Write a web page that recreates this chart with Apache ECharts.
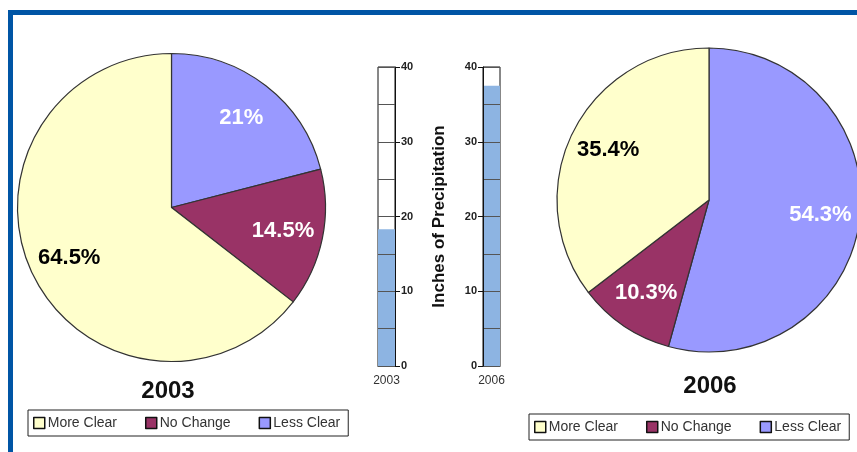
<!DOCTYPE html>
<html><head><meta charset="utf-8">
<script src="https://cdn.jsdelivr.net/npm/echarts@6/dist/echarts.min.js"></script>
<style>html,body{margin:0;padding:0;background:#fff}#c{width:857px;height:452px}</style>
</head><body><div id="c"></div>
<script>
// Data
const categories = ['Less Clear', 'No Change', 'More Clear'];
const legendOrder = ['More Clear', 'No Change', 'Less Clear'];
const values2003 = [21, 14.5, 64.5];
const values2006 = [54.3, 10.3, 35.4];
const precipYears = ['2003', '2006'];
const precip2003 = [18.3];
const precip2006 = [37.5];
const colors = {'More Clear': '#FFFFCC', 'No Change': '#993366', 'Less Clear': '#9999FF'};
const labelColors = {'More Clear': '#000', 'No Change': '#fff', 'Less Clear': '#fff'};

const font = 'Liberation Sans, Arial, sans-serif';
function pieData(vals) {
  return categories.map((c, i) => ({
    name: c, value: vals[i],
    itemStyle: {color: colors[c]},
    label: {color: labelColors[c]}
  }));
}
function pieSeries(vals, center, r) {
  return [{
    type: 'pie', center: center, radius: [0, r], startAngle: 90, clockwise: true,
    data: pieData(vals), label: {show: false}, labelLine: {show: false},
    itemStyle: {borderColor: '#333', borderWidth: 1.2}, silent: true, animation: false
  }, {
    type: 'pie', center: center, radius: [r * 0.44, r], startAngle: 90, clockwise: true,
    data: pieData(vals).map(d => Object.assign(d, {itemStyle: {color: 'rgba(0,0,0,0)'}})),
    label: {show: true, position: 'inside', fontFamily: font, fontWeight: 'bold', fontSize: 22,
      formatter: p => p.value + '%'},
    labelLine: {show: false}, silent: true, animation: false, legendHoverLink: false
  }];
}
function legend(left, top) {
  return {
    data: legendOrder, left: left, top: top, orient: 'horizontal',
    itemWidth: 11, itemHeight: 11, itemGap: 28, icon: 'rect',
    itemStyle: {borderColor: '#111', borderWidth: 1.5},
    borderColor: '#222', borderWidth: 1, padding: [6, 8, 6, 5],
    textStyle: {fontFamily: font, fontSize: 14, color: '#333', padding: [0, 0, 0, -2]},
    selectedMode: false
  };
}
const axisLabel = {fontFamily: font, fontWeight: 'bold', fontSize: 11, color: '#222', margin: 6};
function yAxis(gridIndex, pos, extra) {
  return Object.assign({
    type: 'value', gridIndex: gridIndex, position: pos, min: 0, max: 40, interval: 10, z: 5,
    axisLine: {show: true, lineStyle: {color: '#111'}},
    axisTick: {show: true, length: 5, lineStyle: {color: '#111'}},
    axisLabel: axisLabel,
    splitLine: {show: true, lineStyle: {color: '#555', width: 1}},
    minorTick: {show: false, splitNumber: 2},
    minorSplitLine: {show: true, lineStyle: {color: '#555', width: 1}}
  }, extra || {});
}
function xAxis(gridIndex, cat) {
  return {
    type: 'category', gridIndex: gridIndex, data: [cat],
    axisLine: {show: true, lineStyle: {color: '#111'}}, axisTick: {show: false},
    axisLabel: {fontFamily: font, fontSize: 12, color: '#333', margin: 9}
  };
}
const option = {
  animation: false,
  backgroundColor: '#fff',
  title: [
    {text: '2003', left: 163, top: 374, textAlign: 'center',
     textStyle: {fontFamily: font, fontWeight: 'bold', fontSize: 24, color: '#111'}},
    {text: '2006', left: 705, top: 369, textAlign: 'center',
     textStyle: {fontFamily: font, fontWeight: 'bold', fontSize: 24, color: '#111'}}
  ],
  legend: [legend(28, 410), legend(529, 414)],
  grid: [
    {left: 378, top: 67, width: 17, height: 299, show: true, borderColor: '#111', borderWidth: 1, backgroundColor: '#fff'},
    {left: 483, top: 67, width: 17, height: 299, show: true, borderColor: '#111', borderWidth: 1, backgroundColor: '#fff'}
  ],
  xAxis: [xAxis(0, precipYears[0]), xAxis(1, precipYears[1])],
  yAxis: [
    yAxis(0, 'right'),
    yAxis(1, 'left', {name: 'Inches of Precipitation', nameLocation: 'middle', nameRotate: 90, nameGap: 35,
      nameTextStyle: {fontFamily: font, fontWeight: 'bold', fontSize: 17, color: '#111'}})
  ],
  series: [
    ...pieSeries(values2003, [171.5, 207.5], 154),
    ...pieSeries(values2006, [709, 200], 152),
    {type: 'bar', xAxisIndex: 0, yAxisIndex: 0, data: precip2003, barWidth: '100%',
     itemStyle: {color: '#8DB4E2'}, silent: true},
    {type: 'bar', xAxisIndex: 1, yAxisIndex: 1, data: precip2006, barWidth: '100%',
     itemStyle: {color: '#8DB4E2'}, silent: true}
  ],
  graphic: [
    {type: 'rect', shape: {x: 10.5, y: 12.5, width: 900, height: 500}, z: 100,
     style: {fill: 'none', stroke: '#0055A5', lineWidth: 5}, silent: true}
  ]
};
const chart = echarts.init(document.getElementById('c'), null, {renderer: 'canvas'});
chart.setOption(option);
</script></body></html>
